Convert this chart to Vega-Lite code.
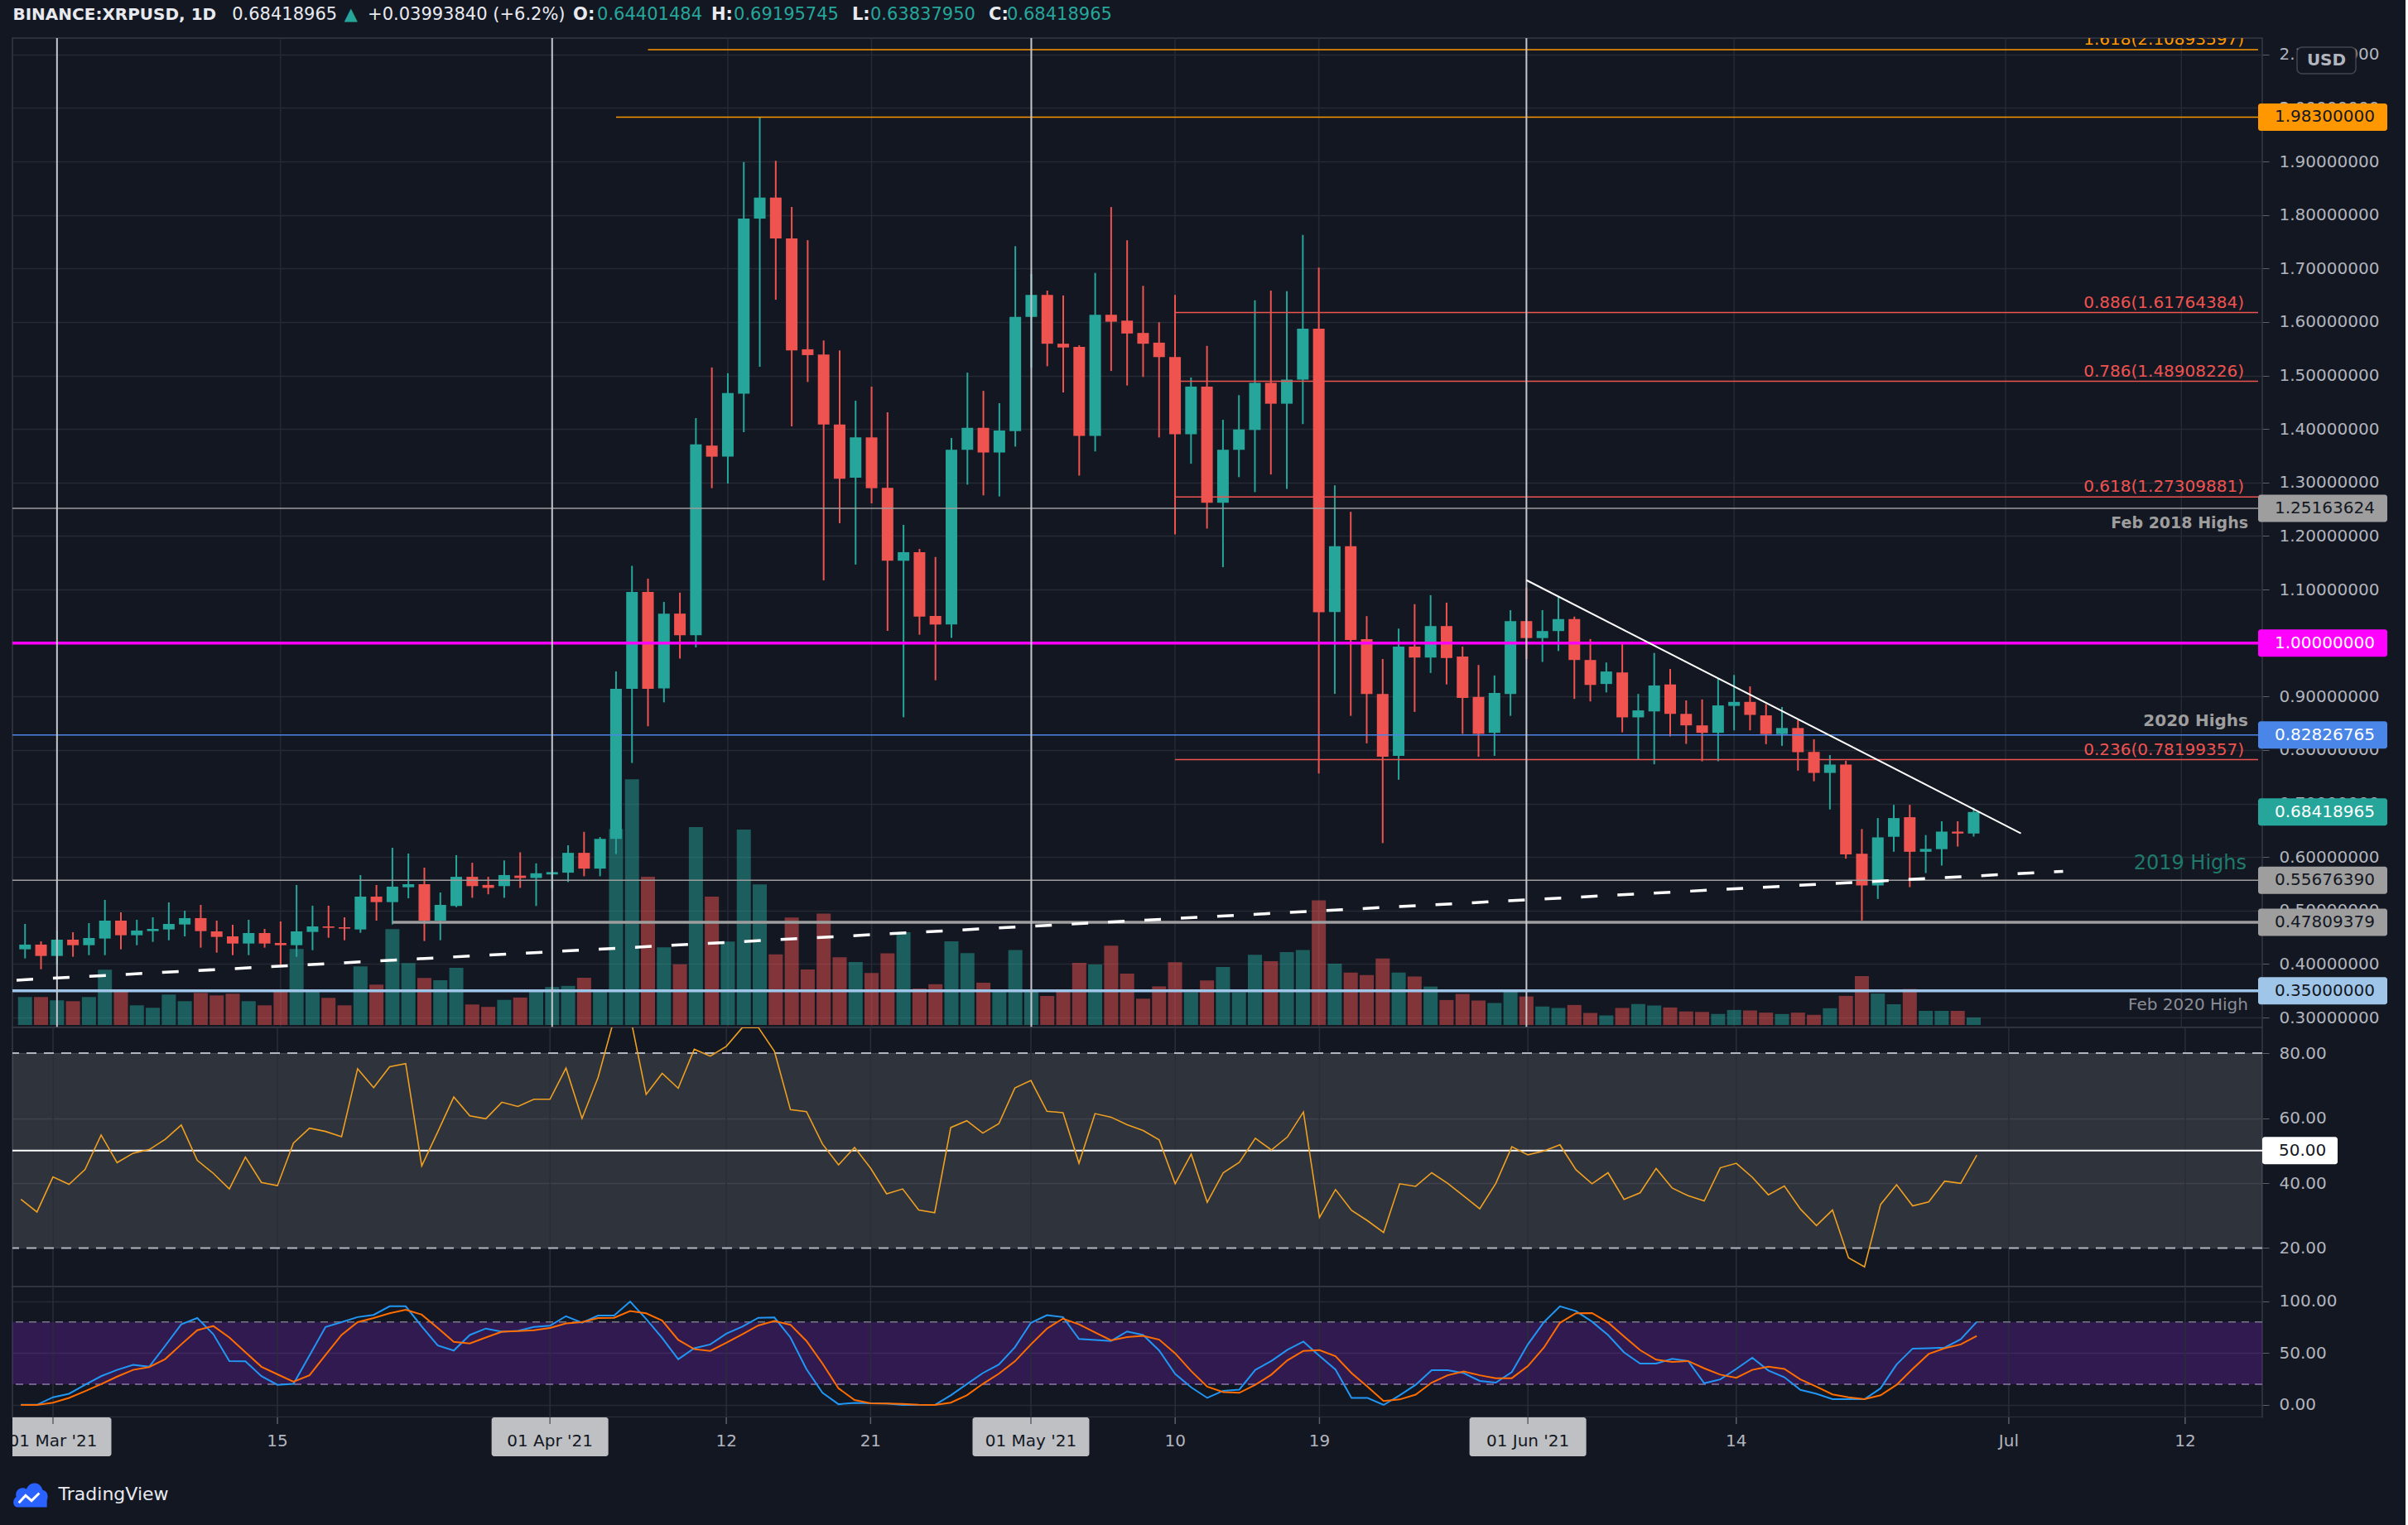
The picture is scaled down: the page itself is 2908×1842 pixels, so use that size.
{
"$schema":"https://vega.github.io/schema/vega-lite/v6.json",
"background":"#131722",
"padding":{"left":13,"top":0,"right":21,"bottom":0},
"autosize":{"type":"pad"},
"spacing":0,
"bounds":"flush",
"resolve":{"scale":{"x":"independent","y":"independent","color":"independent"}},
"config":{"view":{"stroke":"#363a45","strokeWidth":1.5,"fill":"#131722"},"text":{"font":"DejaVu Sans"}},
"datasets":{
"bars":[
{"t":"2021-02-27","o":0.4276,"h":0.4750,"l":0.4106,"c":0.4364,"v":33.7,"rsi":35.0,"k":0.1,"d":0.0},
{"t":"2021-02-28","o":0.4364,"h":0.4425,"l":0.3904,"c":0.4152,"v":33.7,"rsi":31.1,"k":0.1,"d":0.0},
{"t":"2021-03-01","o":0.4152,"h":0.4627,"l":0.3992,"c":0.4456,"v":29.7,"rsi":41.9,"k":7.4,"d":2.2},
{"t":"2021-03-02","o":0.4456,"h":0.4596,"l":0.4137,"c":0.4353,"v":28.7,"rsi":39.6,"k":10.8,"d":6.8},
{"t":"2021-03-03","o":0.4353,"h":0.4766,"l":0.4167,"c":0.4487,"v":33.7,"rsi":44.2,"k":19.4,"d":13.3},
{"t":"2021-03-04","o":0.4477,"h":0.5199,"l":0.4167,"c":0.4812,"v":66.7,"rsi":54.8,"k":27.7,"d":20.0},
{"t":"2021-03-05","o":0.4812,"h":0.4967,"l":0.4276,"c":0.4539,"v":41.7,"rsi":46.3,"k":33.8,"d":27.3},
{"t":"2021-03-06","o":0.4539,"h":0.4828,"l":0.4353,"c":0.4627,"v":23.7,"rsi":49.2,"k":38.7,"d":33.8},
{"t":"2021-03-07","o":0.4616,"h":0.4874,"l":0.4415,"c":0.4657,"v":20.7,"rsi":50.3,"k":36.8,"d":36.5},
{"t":"2021-03-08","o":0.4647,"h":0.5153,"l":0.4446,"c":0.4750,"v":36.7,"rsi":53.5,"k":57.0,"d":44.2},
{"t":"2021-03-09","o":0.4740,"h":0.4998,"l":0.4518,"c":0.4859,"v":28.7,"rsi":57.9,"k":77.6,"d":58.3},
{"t":"2021-03-10","o":0.4859,"h":0.5106,"l":0.4307,"c":0.4616,"v":38.7,"rsi":47.0,"k":83.7,"d":72.0},
{"t":"2021-03-11","o":0.4611,"h":0.4812,"l":0.4214,"c":0.4508,"v":35.7,"rsi":43.0,"k":68.1,"d":76.0},
{"t":"2021-03-12","o":0.4518,"h":0.4735,"l":0.4167,"c":0.4384,"v":37.7,"rsi":38.2,"k":42.3,"d":65.0},
{"t":"2021-03-13","o":0.4384,"h":0.4828,"l":0.4167,"c":0.4580,"v":28.7,"rsi":48.0,"k":42.0,"d":50.9},
{"t":"2021-03-14","o":0.4580,"h":0.4657,"l":0.4307,"c":0.4384,"v":23.7,"rsi":40.2,"k":27.7,"d":36.8},
{"t":"2021-03-15","o":0.4394,"h":0.4797,"l":0.3966,"c":0.4353,"v":40.7,"rsi":39.2,"k":19.4,"d":29.5},
{"t":"2021-03-16","o":0.4353,"h":0.5478,"l":0.4137,"c":0.4611,"v":91.7,"rsi":52.3,"k":20.3,"d":22.4},
{"t":"2021-03-17","o":0.4601,"h":0.5091,"l":0.4260,"c":0.4704,"v":42.7,"rsi":56.9,"k":47.6,"d":28.6},
{"t":"2021-03-18","o":0.4704,"h":0.5091,"l":0.4492,"c":0.4678,"v":32.7,"rsi":55.9,"k":75.1,"d":48.2},
{"t":"2021-03-19","o":0.4688,"h":0.4874,"l":0.4446,"c":0.4663,"v":23.7,"rsi":54.3,"k":79.7,"d":67.4},
{"t":"2021-03-20","o":0.4647,"h":0.5663,"l":0.4585,"c":0.5261,"v":70.7,"rsi":75.2,"k":84.6,"d":79.7},
{"t":"2021-03-21","o":0.5261,"h":0.5478,"l":0.4812,"c":0.5158,"v":48.7,"rsi":69.4,"k":86.7,"d":83.7},
{"t":"2021-03-22","o":0.5158,"h":0.6174,"l":0.4740,"c":0.5447,"v":115.7,"rsi":75.8,"k":95.0,"d":88.3},
{"t":"2021-03-23","o":0.5436,"h":0.6066,"l":0.5230,"c":0.5493,"v":74.7,"rsi":76.8,"k":95.0,"d":91.6},
{"t":"2021-03-24","o":0.5493,"h":0.5803,"l":0.4431,"c":0.4812,"v":56.7,"rsi":45.3,"k":75.7,"d":87.0},
{"t":"2021-03-25","o":0.4812,"h":0.5338,"l":0.4446,"c":0.5106,"v":54.0,"rsi":55.8,"k":57.3,"d":74.2},
{"t":"2021-03-26","o":0.5086,"h":0.6035,"l":0.5064,"c":0.5631,"v":69.1,"rsi":66.5,"k":52.4,"d":60.7},
{"t":"2021-03-27","o":0.5631,"h":0.5893,"l":0.5239,"c":0.5457,"v":24.7,"rsi":60.7,"k":67.4,"d":59.2},
{"t":"2021-03-28","o":0.5479,"h":0.5631,"l":0.5304,"c":0.5424,"v":21.8,"rsi":59.8,"k":73.6,"d":65.0},
{"t":"2021-03-29","o":0.5457,"h":0.5937,"l":0.5239,"c":0.5664,"v":30.3,"rsi":64.9,"k":70.5,"d":70.5},
{"t":"2021-03-30","o":0.5653,"h":0.6089,"l":0.5424,"c":0.5609,"v":33.1,"rsi":63.6,"k":71.4,"d":71.1},
{"t":"2021-03-31","o":0.5609,"h":0.5882,"l":0.5086,"c":0.5697,"v":40.9,"rsi":65.8,"k":75.1,"d":72.0},
{"t":"2021-04-01","o":0.5675,"h":0.5980,"l":0.5391,"c":0.5719,"v":45.8,"rsi":65.8,"k":76.3,"d":74.2},
{"t":"2021-04-02","o":0.5708,"h":0.6220,"l":0.5533,"c":0.6079,"v":47.2,"rsi":75.4,"k":85.5,"d":78.5},
{"t":"2021-04-03","o":0.6079,"h":0.6471,"l":0.5642,"c":0.5784,"v":57.1,"rsi":59.9,"k":79.1,"d":79.7},
{"t":"2021-04-04","o":0.5784,"h":0.6373,"l":0.5642,"c":0.6340,"v":40.9,"rsi":72.5,"k":86.1,"d":83.7},
{"t":"2021-04-05","o":0.6340,"h":0.9470,"l":0.6057,"c":0.9143,"v":236.8,"rsi":90.5,"k":86.1,"d":84.0},
{"t":"2021-04-06","o":0.9143,"h":1.1444,"l":0.7758,"c":1.0953,"v":296.7,"rsi":91.5,"k":99.6,"d":90.4},
{"t":"2021-04-07","o":1.0953,"h":1.1204,"l":0.8445,"c":0.9143,"v":179.0,"rsi":67.3,"k":82.8,"d":88.3},
{"t":"2021-04-08","o":0.9154,"h":1.0768,"l":0.8892,"c":1.0550,"v":93.7,"rsi":73.8,"k":64.4,"d":81.2},
{"t":"2021-04-09","o":1.0550,"h":1.0942,"l":0.9710,"c":1.0146,"v":73.3,"rsi":69.2,"k":43.9,"d":62.6},
{"t":"2021-04-10","o":1.0146,"h":1.4203,"l":0.9917,"c":1.3712,"v":238.9,"rsi":81.2,"k":54.6,"d":53.7},
{"t":"2021-04-11","o":1.3690,"h":1.5151,"l":1.2894,"c":1.3483,"v":155.0,"rsi":79.1,"k":58.3,"d":52.1},
{"t":"2021-04-12","o":1.3483,"h":1.5042,"l":1.2981,"c":1.4672,"v":100.8,"rsi":82.1,"k":68.7,"d":59.8},
{"t":"2021-04-13","o":1.4661,"h":1.8990,"l":1.3941,"c":1.7932,"v":236.1,"rsi":87.9,"k":75.4,"d":68.1},
{"t":"2021-04-14","o":1.7932,"h":1.9830,"l":1.5162,"c":1.8325,"v":169.8,"rsi":87.9,"k":84.0,"d":76.6},
{"t":"2021-04-15","o":1.8325,"h":1.9012,"l":1.6416,"c":1.7561,"v":85.3,"rsi":80.6,"k":84.3,"d":80.9},
{"t":"2021-04-16","o":1.7561,"h":1.8150,"l":1.4050,"c":1.5468,"v":129.7,"rsi":62.6,"k":65.0,"d":77.2},
{"t":"2021-04-17","o":1.5490,"h":1.7529,"l":1.4879,"c":1.5381,"v":66.9,"rsi":62.0,"k":34.5,"d":61.6},
{"t":"2021-04-18","o":1.5392,"h":1.5653,"l":1.1171,"c":1.4083,"v":134.6,"rsi":52.0,"k":11.7,"d":39.9},
{"t":"2021-04-19","o":1.4083,"h":1.5468,"l":1.2240,"c":1.3069,"v":81.7,"rsi":45.6,"k":0.7,"d":16.0},
{"t":"2021-04-20","o":1.3090,"h":1.4530,"l":1.1466,"c":1.3843,"v":76.1,"rsi":51.0,"k":1.9,"d":4.7},
{"t":"2021-04-21","o":1.3843,"h":1.4792,"l":1.2611,"c":1.2894,"v":62.7,"rsi":44.6,"k":1.6,"d":1.6},
{"t":"2021-04-22","o":1.2900,"h":1.4312,"l":1.0226,"c":1.1538,"v":86.4,"rsi":36.7,"k":1.3,"d":1.3},
{"t":"2021-04-23","o":1.1538,"h":1.2209,"l":0.8613,"c":1.1698,"v":112.0,"rsi":38.2,"k":0.0,"d":1.0},
{"t":"2021-04-24","o":1.1698,"h":1.1758,"l":1.0156,"c":1.0496,"v":44.0,"rsi":31.7,"k":0.0,"d":0.1},
{"t":"2021-04-25","o":1.0506,"h":1.1608,"l":0.9304,"c":1.0346,"v":49.2,"rsi":30.9,"k":0.0,"d":0.0},
{"t":"2021-04-26","o":1.0346,"h":1.3832,"l":1.0096,"c":1.3611,"v":101.0,"rsi":57.1,"k":9.3,"d":2.2},
{"t":"2021-04-27","o":1.3611,"h":1.5054,"l":1.2960,"c":1.4022,"v":86.7,"rsi":59.2,"k":20.0,"d":9.3},
{"t":"2021-04-28","o":1.4022,"h":1.4713,"l":1.2760,"c":1.3561,"v":51.1,"rsi":55.4,"k":30.7,"d":20.3},
{"t":"2021-04-29","o":1.3561,"h":1.4483,"l":1.2740,"c":1.3972,"v":42.1,"rsi":58.3,"k":39.0,"d":30.1},
{"t":"2021-04-30","o":1.3962,"h":1.7417,"l":1.3671,"c":1.6095,"v":90.6,"rsi":69.3,"k":55.5,"d":42.0},
{"t":"2021-05-01","o":1.6095,"h":1.6897,"l":1.5144,"c":1.6506,"v":42.7,"rsi":71.6,"k":79.1,"d":58.3},
{"t":"2021-05-02","o":1.6506,"h":1.6586,"l":1.5174,"c":1.5594,"v":35.0,"rsi":62.1,"k":86.4,"d":73.6},
{"t":"2021-05-03","o":1.5594,"h":1.6496,"l":1.4683,"c":1.5524,"v":40.8,"rsi":61.7,"k":84.6,"d":83.1},
{"t":"2021-05-04","o":1.5534,"h":1.5564,"l":1.3130,"c":1.3872,"v":75.1,"rsi":46.1,"k":63.5,"d":77.6},
{"t":"2021-05-05","o":1.3872,"h":1.6917,"l":1.3581,"c":1.6135,"v":73.1,"rsi":61.4,"k":62.6,"d":69.9},
{"t":"2021-05-06","o":1.6135,"h":1.8148,"l":1.5084,"c":1.6005,"v":95.8,"rsi":60.3,"k":61.6,"d":62.2},
{"t":"2021-05-07","o":1.6025,"h":1.7527,"l":1.4813,"c":1.5785,"v":62.1,"rsi":58.0,"k":70.8,"d":65.3},
{"t":"2021-05-08","o":1.5795,"h":1.6676,"l":1.4973,"c":1.5594,"v":31.7,"rsi":56.2,"k":67.4,"d":66.5},
{"t":"2021-05-09","o":1.5614,"h":1.5995,"l":1.3842,"c":1.5344,"v":46.6,"rsi":53.3,"k":52.4,"d":62.9},
{"t":"2021-05-10","o":1.5344,"h":1.6506,"l":1.2029,"c":1.3902,"v":75.7,"rsi":39.8,"k":29.8,"d":49.7},
{"t":"2021-05-11","o":1.3902,"h":1.4963,"l":1.3351,"c":1.4793,"v":39.5,"rsi":48.9,"k":16.9,"d":32.6},
{"t":"2021-05-12","o":1.4793,"h":1.5554,"l":1.2139,"c":1.2620,"v":53.7,"rsi":34.1,"k":6.8,"d":17.6},
{"t":"2021-05-13","o":1.2620,"h":1.4172,"l":1.1418,"c":1.3611,"v":69.9,"rsi":43.2,"k":13.6,"d":12.3},
{"t":"2021-05-14","o":1.3611,"h":1.4633,"l":1.3100,"c":1.3992,"v":39.5,"rsi":46.4,"k":14.8,"d":11.7},
{"t":"2021-05-15","o":1.3982,"h":1.6406,"l":1.2820,"c":1.4863,"v":84.8,"rsi":53.8,"k":33.8,"d":19.4},
{"t":"2021-05-16","o":1.4863,"h":1.6586,"l":1.3150,"c":1.4473,"v":77.0,"rsi":50.2,"k":42.3,"d":29.2},
{"t":"2021-05-17","o":1.4473,"h":1.6576,"l":1.2880,"c":1.4923,"v":88.0,"rsi":54.2,"k":53.1,"d":43.0},
{"t":"2021-05-18","o":1.4923,"h":1.7628,"l":1.4092,"c":1.5875,"v":90.6,"rsi":61.9,"k":61.0,"d":52.1},
{"t":"2021-05-19","o":1.5875,"h":1.7017,"l":0.7562,"c":1.0577,"v":150.5,"rsi":29.4,"k":47.2,"d":52.8},
{"t":"2021-05-20","o":1.0578,"h":1.2947,"l":0.9049,"c":1.1809,"v":74.1,"rsi":38.0,"k":34.1,"d":46.9},
{"t":"2021-05-21","o":1.1809,"h":1.2452,"l":0.8639,"c":1.0056,"v":63.3,"rsi":31.6,"k":6.8,"d":30.7},
{"t":"2021-05-22","o":1.0074,"h":1.0503,"l":0.8126,"c":0.9049,"v":60.3,"rsi":28.4,"k":6.8,"d":17.6},
{"t":"2021-05-23","o":0.9049,"h":0.9702,"l":0.6261,"c":0.7874,"v":80.2,"rsi":24.8,"k":0.0,"d":3.8},
{"t":"2021-05-24","o":0.7892,"h":1.0270,"l":0.7445,"c":0.9934,"v":63.3,"rsi":39.8,"k":9.3,"d":5.3},
{"t":"2021-05-25","o":0.9934,"h":1.0727,"l":0.8713,"c":0.9729,"v":58.5,"rsi":39.0,"k":19.4,"d":9.9},
{"t":"2021-05-26","o":0.9729,"h":1.0895,"l":0.9440,"c":1.0317,"v":46.4,"rsi":43.2,"k":33.5,"d":21.5},
{"t":"2021-05-27","o":1.0317,"h":1.0755,"l":0.9226,"c":0.9720,"v":30.1,"rsi":39.9,"k":33.5,"d":28.6},
{"t":"2021-05-28","o":0.9748,"h":0.9934,"l":0.8303,"c":0.8974,"v":37.4,"rsi":36.0,"k":30.7,"d":32.3},
{"t":"2021-05-29","o":0.8993,"h":0.9590,"l":0.7874,"c":0.8303,"v":29.5,"rsi":32.1,"k":23.1,"d":28.6},
{"t":"2021-05-30","o":0.8322,"h":0.9394,"l":0.7892,"c":0.9067,"v":26.5,"rsi":39.9,"k":21.5,"d":25.8},
{"t":"2021-05-31","o":0.9049,"h":1.0615,"l":0.8639,"c":1.0410,"v":42.2,"rsi":51.2,"k":31.6,"d":25.8},
{"t":"2021-06-01","o":1.0410,"h":1.1035,"l":0.9702,"c":1.0093,"v":34.4,"rsi":48.7,"k":58.3,"d":37.4},
{"t":"2021-06-02","o":1.0093,"h":1.0615,"l":0.9646,"c":1.0224,"v":22.3,"rsi":49.9,"k":79.7,"d":55.2},
{"t":"2021-06-03","o":1.0224,"h":1.0867,"l":0.9851,"c":1.0448,"v":20.5,"rsi":51.8,"k":95.0,"d":79.1},
{"t":"2021-06-04","o":1.0448,"h":1.0494,"l":0.8956,"c":0.9683,"v":24.1,"rsi":44.1,"k":90.4,"d":88.3},
{"t":"2021-06-05","o":0.9683,"h":1.0075,"l":0.8909,"c":0.9217,"v":14.5,"rsi":39.8,"k":80.2,"d":88.5},
{"t":"2021-06-06","o":0.9235,"h":0.9636,"l":0.9077,"c":0.9468,"v":11.5,"rsi":43.2,"k":67.4,"d":79.4},
{"t":"2021-06-07","o":0.9450,"h":1.0000,"l":0.8331,"c":0.8611,"v":20.5,"rsi":35.0,"k":50.6,"d":65.9},
{"t":"2021-06-08","o":0.8611,"h":0.9049,"l":0.7827,"c":0.8741,"v":25.3,"rsi":37.0,"k":39.9,"d":52.8},
{"t":"2021-06-09","o":0.8722,"h":0.9814,"l":0.7734,"c":0.9207,"v":23.5,"rsi":44.5,"k":39.9,"d":43.6},
{"t":"2021-06-10","o":0.9226,"h":0.9515,"l":0.8256,"c":0.8676,"v":21.1,"rsi":38.5,"k":44.5,"d":41.4},
{"t":"2021-06-11","o":0.8676,"h":0.8928,"l":0.8116,"c":0.8461,"v":16.3,"rsi":36.1,"k":42.3,"d":42.3},
{"t":"2021-06-12","o":0.8461,"h":0.8946,"l":0.7790,"c":0.8322,"v":15.7,"rsi":34.5,"k":20.9,"d":35.3},
{"t":"2021-06-13","o":0.8322,"h":0.9338,"l":0.7790,"c":0.8834,"v":13.3,"rsi":44.7,"k":24.6,"d":29.2},
{"t":"2021-06-14","o":0.8825,"h":0.9403,"l":0.8368,"c":0.8900,"v":18.1,"rsi":46.1,"k":34.7,"d":26.1},
{"t":"2021-06-15","o":0.8900,"h":0.9189,"l":0.8368,"c":0.8657,"v":17.5,"rsi":41.8,"k":45.4,"d":33.8},
{"t":"2021-06-16","o":0.8648,"h":0.8858,"l":0.8111,"c":0.8299,"v":14.9,"rsi":36.4,"k":33.2,"d":36.8},
{"t":"2021-06-17","o":0.8299,"h":0.8804,"l":0.8078,"c":0.8412,"v":13.2,"rsi":39.1,"k":26.7,"d":34.7},
{"t":"2021-06-18","o":0.8412,"h":0.8557,"l":0.7616,"c":0.7960,"v":14.9,"rsi":32.0,"k":14.5,"d":24.6},
{"t":"2021-06-19","o":0.7965,"h":0.8202,"l":0.7417,"c":0.7573,"v":12.2,"rsi":26.9,"k":10.8,"d":17.6},
{"t":"2021-06-20","o":0.7573,"h":0.7906,"l":0.6890,"c":0.7729,"v":20.2,"rsi":31.7,"k":5.6,"d":10.2},
{"t":"2021-06-21","o":0.7729,"h":0.7799,"l":0.5970,"c":0.6051,"v":35.1,"rsi":17.0,"k":5.6,"d":7.4},
{"t":"2021-06-22","o":0.6062,"h":0.6524,"l":0.4814,"c":0.5470,"v":59.1,"rsi":14.2,"k":5.6,"d":5.6},
{"t":"2021-06-23","o":0.5470,"h":0.6729,"l":0.5217,"c":0.6368,"v":37.9,"rsi":33.4,"k":16.0,"d":9.3},
{"t":"2021-06-24","o":0.6379,"h":0.6976,"l":0.6099,"c":0.6729,"v":25.0,"rsi":39.5,"k":39.0,"d":19.4},
{"t":"2021-06-25","o":0.6745,"h":0.6976,"l":0.5438,"c":0.6099,"v":43.4,"rsi":33.0,"k":54.3,"d":34.7},
{"t":"2021-06-26","o":0.6099,"h":0.6411,"l":0.5701,"c":0.6153,"v":17.0,"rsi":34.2,"k":54.6,"d":49.1},
{"t":"2021-06-27","o":0.6148,"h":0.6669,"l":0.5841,"c":0.6476,"v":17.0,"rsi":40.6,"k":55.2,"d":54.6},
{"t":"2021-06-28","o":0.6476,"h":0.6669,"l":0.6196,"c":0.6440,"v":17.0,"rsi":39.9,"k":63.2,"d":58.3},
{"t":"2021-06-29","o":0.64401484,"h":0.69195745,"l":0.6383795,"c":0.68418965,"v":9.0,"rsi":48.6,"k":80.0,"d":66.5}
],
"ticks":[
{"t":"2021-03-01","label":"01 Mar '21","drawn":true},
{"t":"2021-03-15","label":"15","drawn":false},
{"t":"2021-04-01","label":"01 Apr '21","drawn":true},
{"t":"2021-04-12","label":"12","drawn":false},
{"t":"2021-04-21","label":"21","drawn":false},
{"t":"2021-05-01","label":"01 May '21","drawn":true},
{"t":"2021-05-10","label":"10","drawn":false},
{"t":"2021-05-19","label":"19","drawn":false},
{"t":"2021-06-01","label":"01 Jun '21","drawn":true},
{"t":"2021-06-14","label":"14","drawn":false},
{"t":"2021-07-01","label":"Jul","drawn":false},
{"t":"2021-07-12","label":"12","drawn":false}
],
"levels":[
{"p":2.10893597,"from":"2021-04-07","kind":"orange"},
{"p":1.983,"from":"2021-04-05","kind":"orange"},
{"p":1.61764384,"from":"2021-05-10","kind":"fib"},
{"p":1.48908226,"from":"2021-05-10","kind":"fib"},
{"p":1.27309881,"from":"2021-05-10","kind":"fib"},
{"p":1.25163624,"from":"2021-02-20","kind":"gray"},
{"p":1.0,"from":"2021-02-20","kind":"magenta"},
{"p":0.82826765,"from":"2021-02-20","kind":"blue"},
{"p":0.78199357,"from":"2021-05-10","kind":"fib"},
{"p":0.5567639,"from":"2021-02-20","kind":"gray"},
{"p":0.47809379,"from":"2021-03-22","kind":"gray2"},
{"p":0.35,"from":"2021-02-20","kind":"lightblue"}
],
"fib":[
{"p":2.10893597,"label":"1.618(2.10893597)","kind":"orange"},
{"p":1.61764384,"label":"0.886(1.61764384)","kind":"fib"},
{"p":1.48908226,"label":"0.786(1.48908226)","kind":"fib"},
{"p":1.27309881,"label":"0.618(1.27309881)","kind":"fib"},
{"p":0.78199357,"label":"0.236(0.78199357)","kind":"fib"}
],
"boxes":[
{"v":1.983,"kind":"orange"},
{"v":1.25163624,"kind":"gray"},
{"v":1.0,"kind":"magenta"},
{"v":0.82826765,"kind":"blue"},
{"v":0.68418965,"kind":"teal"},
{"v":0.5567639,"kind":"gray"},
{"v":0.47809379,"kind":"gray2"},
{"v":0.35,"kind":"lightblue"}
],
"dash":[{"t":"2021-02-26T11:15:00Z","p":0.3699},{"t":"2021-07-04T14:24:00Z","p":0.5734}],
"trend":[{"t":"2021-06-01T00:00:00Z","p":1.1175},{"t":"2021-07-01T23:00:00Z","p":0.6443}]
},
"vconcat":[
{
"width":2717,"height":46,"view":{"stroke":null},
"data":{"values":[{}]},
"layer":[
{"mark":{"type":"text","align":"left","baseline":"middle","fontSize":20,"fontWeight":"bold","color":"#e8eaf0"},"encoding":{"x":{"datum":{"year":2021,"month":2,"date":26,"hours":11,"minutes":46,"utc":true},"type":"temporal","scale":{"type":"utc","domain":[{"year":2021,"month":2,"date":26,"hours":11,"minutes":15,"utc":true},{"year":2021,"month":7,"date":16,"hours":19,"minutes":26,"utc":true}]},"axis":null},"y":{"datum":0.6,"type":"quantitative","scale":{"domain":[0,1]},"axis":null},"text":{"value":"BINANCE:XRPUSD, 1D"}}},
{"mark":{"type":"text","align":"left","baseline":"middle","fontSize":21,"color":"#e8eaf0"},"encoding":{"x":{"datum":{"year":2021,"month":3,"date":12,"hours":4,"utc":true},"type":"temporal","scale":{"type":"utc","domain":[{"year":2021,"month":2,"date":26,"hours":11,"minutes":15,"utc":true},{"year":2021,"month":7,"date":16,"hours":19,"minutes":26,"utc":true}]},"axis":null},"y":{"datum":0.6,"type":"quantitative","scale":{"domain":[0,1]},"axis":null},"text":{"value":"0.68418965"}}},
{"mark":{"type":"text","align":"left","baseline":"middle","fontSize":21,"color":"#26a69a"},"encoding":{"x":{"datum":{"year":2021,"month":3,"date":19,"hours":3,"minutes":55,"utc":true},"type":"temporal","scale":{"type":"utc","domain":[{"year":2021,"month":2,"date":26,"hours":11,"minutes":15,"utc":true},{"year":2021,"month":7,"date":16,"hours":19,"minutes":26,"utc":true}]},"axis":null},"y":{"datum":0.6,"type":"quantitative","scale":{"domain":[0,1]},"axis":null},"text":{"value":"▲"}}},
{"mark":{"type":"text","align":"left","baseline":"middle","fontSize":21,"color":"#e8eaf0"},"encoding":{"x":{"datum":{"year":2021,"month":3,"date":20,"hours":15,"minutes":7,"utc":true},"type":"temporal","scale":{"type":"utc","domain":[{"year":2021,"month":2,"date":26,"hours":11,"minutes":15,"utc":true},{"year":2021,"month":7,"date":16,"hours":19,"minutes":26,"utc":true}]},"axis":null},"y":{"datum":0.6,"type":"quantitative","scale":{"domain":[0,1]},"axis":null},"text":{"value":"+0.03993840 (+6.2%)"}}},
{"mark":{"type":"text","align":"left","baseline":"middle","fontSize":21,"fontWeight":"bold","color":"#e8eaf0"},"encoding":{"x":{"datum":{"year":2021,"month":4,"date":2,"hours":10,"minutes":34,"utc":true},"type":"temporal","scale":{"type":"utc","domain":[{"year":2021,"month":2,"date":26,"hours":11,"minutes":15,"utc":true},{"year":2021,"month":7,"date":16,"hours":19,"minutes":26,"utc":true}]},"axis":null},"y":{"datum":0.6,"type":"quantitative","scale":{"domain":[0,1]},"axis":null},"text":{"value":"O:"}}},
{"mark":{"type":"text","align":"left","baseline":"middle","fontSize":21,"color":"#26a69a"},"encoding":{"x":{"datum":{"year":2021,"month":4,"date":3,"hours":22,"minutes":34,"utc":true},"type":"temporal","scale":{"type":"utc","domain":[{"year":2021,"month":2,"date":26,"hours":11,"minutes":15,"utc":true},{"year":2021,"month":7,"date":16,"hours":19,"minutes":26,"utc":true}]},"axis":null},"y":{"datum":0.6,"type":"quantitative","scale":{"domain":[0,1]},"axis":null},"text":{"value":"0.64401484"}}},
{"mark":{"type":"text","align":"left","baseline":"middle","fontSize":21,"fontWeight":"bold","color":"#e8eaf0"},"encoding":{"x":{"datum":{"year":2021,"month":4,"date":11,"hours":1,"minutes":26,"utc":true},"type":"temporal","scale":{"type":"utc","domain":[{"year":2021,"month":2,"date":26,"hours":11,"minutes":15,"utc":true},{"year":2021,"month":7,"date":16,"hours":19,"minutes":26,"utc":true}]},"axis":null},"y":{"datum":0.6,"type":"quantitative","scale":{"domain":[0,1]},"axis":null},"text":{"value":"H:"}}},
{"mark":{"type":"text","align":"left","baseline":"middle","fontSize":21,"color":"#26a69a"},"encoding":{"x":{"datum":{"year":2021,"month":4,"date":12,"hours":11,"minutes":2,"utc":true},"type":"temporal","scale":{"type":"utc","domain":[{"year":2021,"month":2,"date":26,"hours":11,"minutes":15,"utc":true},{"year":2021,"month":7,"date":16,"hours":19,"minutes":26,"utc":true}]},"axis":null},"y":{"datum":0.6,"type":"quantitative","scale":{"domain":[0,1]},"axis":null},"text":{"value":"0.69195745"}}},
{"mark":{"type":"text","align":"left","baseline":"middle","fontSize":21,"fontWeight":"bold","color":"#e8eaf0"},"encoding":{"x":{"datum":{"year":2021,"month":4,"date":19,"hours":20,"minutes":10,"utc":true},"type":"temporal","scale":{"type":"utc","domain":[{"year":2021,"month":2,"date":26,"hours":11,"minutes":15,"utc":true},{"year":2021,"month":7,"date":16,"hours":19,"minutes":26,"utc":true}]},"axis":null},"y":{"datum":0.6,"type":"quantitative","scale":{"domain":[0,1]},"axis":null},"text":{"value":"L:"}}},
{"mark":{"type":"text","align":"left","baseline":"middle","fontSize":21,"color":"#26a69a"},"encoding":{"x":{"datum":{"year":2021,"month":4,"date":20,"hours":23,"minutes":31,"utc":true},"type":"temporal","scale":{"type":"utc","domain":[{"year":2021,"month":2,"date":26,"hours":11,"minutes":15,"utc":true},{"year":2021,"month":7,"date":16,"hours":19,"minutes":26,"utc":true}]},"axis":null},"y":{"datum":0.6,"type":"quantitative","scale":{"domain":[0,1]},"axis":null},"text":{"value":"0.63837950"}}},
{"mark":{"type":"text","align":"left","baseline":"middle","fontSize":21,"fontWeight":"bold","color":"#e8eaf0"},"encoding":{"x":{"datum":{"year":2021,"month":4,"date":28,"hours":8,"minutes":53,"utc":true},"type":"temporal","scale":{"type":"utc","domain":[{"year":2021,"month":2,"date":26,"hours":11,"minutes":15,"utc":true},{"year":2021,"month":7,"date":16,"hours":19,"minutes":26,"utc":true}]},"axis":null},"y":{"datum":0.6,"type":"quantitative","scale":{"domain":[0,1]},"axis":null},"text":{"value":"C:"}}},
{"mark":{"type":"text","align":"left","baseline":"middle","fontSize":21,"color":"#26a69a"},"encoding":{"x":{"datum":{"year":2021,"month":4,"date":29,"hours":12,"minutes":0,"utc":true},"type":"temporal","scale":{"type":"utc","domain":[{"year":2021,"month":2,"date":26,"hours":11,"minutes":15,"utc":true},{"year":2021,"month":7,"date":16,"hours":19,"minutes":26,"utc":true}]},"axis":null},"y":{"datum":0.6,"type":"quantitative","scale":{"domain":[0,1]},"axis":null},"text":{"value":"0.68418965"}}}
]
},
{
"width":2717,"height":1195,
"layer":[
{"data":{"name":"ticks"},"mark":{"type":"rule","color":"#262a35","strokeWidth":1.5},"encoding":{"x":{"field":"t","type":"temporal","scale":{"type":"utc","domain":[{"year":2021,"month":2,"date":26,"hours":11,"minutes":15,"utc":true},{"year":2021,"month":7,"date":16,"hours":19,"minutes":26,"utc":true}]},"axis":null}}},
{"data":{"name":"bars"},"mark":{"type":"bar","width":17,"opacity":0.5},"encoding":{"x":{"field":"t","type":"temporal","scale":{"type":"utc","domain":[{"year":2021,"month":2,"date":26,"hours":11,"minutes":15,"utc":true},{"year":2021,"month":7,"date":16,"hours":19,"minutes":26,"utc":true}]},"axis":null},"y":{"field":"v","type":"quantitative","scale":{"domain":[-3,1192],"nice":false,"zero":false},"axis":null},"color":{"condition":{"test":"datum.c >= datum.o","value":"#26a69a"},"value":"#ef5350"}}},
{"layer":[
{"data":{"name":"bars"},"mark":{"type":"rule","strokeWidth":2},"encoding":{"x":{"field":"t","type":"temporal","scale":{"type":"utc","domain":[{"year":2021,"month":2,"date":26,"hours":11,"minutes":15,"utc":true},{"year":2021,"month":7,"date":16,"hours":19,"minutes":26,"utc":true}]},"axis":null},"y":{"field":"l","type":"quantitative","scale":{"domain":[0.2816,2.1306],"nice":false,"zero":false},"axis":{"orient":"right","values":[0.3,0.4,0.5,0.6,0.7,0.8,0.9,1.0,1.1,1.2,1.3,1.4,1.5,1.6,1.7,1.8,1.9,2.0,2.1],"format":".8f","grid":true,"gridColor":"#262a35","gridWidth":1.5,"tickSize":8,"tickColor":"#5d606b","labelPadding":12,"labelFontSize":20,"labelFont":"DejaVu Sans","labelColor":"#b2b5be","domain":false,"title":null,"labelOverlap":false}},"y2":{"field":"h"},"color":{"condition":{"test":"datum.c >= datum.o","value":"#26a69a"},"value":"#ef5350"}}},
{"data":{"name":"bars"},"mark":{"type":"bar","width":14},"encoding":{"x":{"field":"t","type":"temporal","scale":{"type":"utc","domain":[{"year":2021,"month":2,"date":26,"hours":11,"minutes":15,"utc":true},{"year":2021,"month":7,"date":16,"hours":19,"minutes":26,"utc":true}]},"axis":null},"y":{"field":"o","type":"quantitative"},"y2":{"field":"c"},"color":{"condition":{"test":"datum.c >= datum.o","value":"#26a69a"},"value":"#ef5350"}}},
{"data":{"name":"levels"},"mark":{"type":"rule","clip":true},"encoding":{"x":{"field":"from","type":"temporal","scale":{"type":"utc","domain":[{"year":2021,"month":2,"date":26,"hours":11,"minutes":15,"utc":true},{"year":2021,"month":7,"date":16,"hours":19,"minutes":26,"utc":true}]},"axis":null},"x2":{"datum":{"year":2021,"month":7,"date":16,"hours":19,"minutes":26,"utc":true}},"y":{"field":"p","type":"quantitative"},"color":{"field":"kind","type":"nominal","scale":{"domain":["orange","fib","gray","gray2","magenta","blue","lightblue","teal"],"range":["#ff9800","#ef5350","#9e9e9e","#9e9e9e","#ff00ff","#4a86e8","#9fc5e8","#26a69a"]},"legend":null},"strokeWidth":{"condition":{"test":"indexof(['magenta','lightblue','gray2'], datum.kind) >= 0","value":3.5},"value":1.5}}},
{"data":{"name":"ticks"},"transform":[{"filter":"datum.drawn"}],"mark":{"type":"rule","color":"#c4c6cc","strokeWidth":2},"encoding":{"x":{"field":"t","type":"temporal","scale":{"type":"utc","domain":[{"year":2021,"month":2,"date":26,"hours":11,"minutes":15,"utc":true},{"year":2021,"month":7,"date":16,"hours":19,"minutes":26,"utc":true}]},"axis":null}}},
{"data":{"name":"dash"},"mark":{"type":"line","color":"#ffffff","strokeWidth":3.5,"strokeDash":[20,24],"clip":true},"encoding":{"x":{"field":"t","type":"temporal","scale":{"type":"utc","domain":[{"year":2021,"month":2,"date":26,"hours":11,"minutes":15,"utc":true},{"year":2021,"month":7,"date":16,"hours":19,"minutes":26,"utc":true}]},"axis":null},"y":{"field":"p","type":"quantitative"}}},
{"data":{"name":"trend"},"mark":{"type":"line","color":"#ffffff","strokeWidth":2},"encoding":{"x":{"field":"t","type":"temporal","scale":{"type":"utc","domain":[{"year":2021,"month":2,"date":26,"hours":11,"minutes":15,"utc":true},{"year":2021,"month":7,"date":16,"hours":19,"minutes":26,"utc":true}]},"axis":null},"y":{"field":"p","type":"quantitative"}}},
{"data":{"name":"fib"},"mark":{"type":"text","align":"right","baseline":"alphabetic","dx":-17,"dy":-6,"fontSize":20,"clip":true},"encoding":{"x":{"datum":{"year":2021,"month":7,"date":16,"hours":19,"minutes":26,"utc":true},"type":"temporal","scale":{"type":"utc","domain":[{"year":2021,"month":2,"date":26,"hours":11,"minutes":15,"utc":true},{"year":2021,"month":7,"date":16,"hours":19,"minutes":26,"utc":true}]},"axis":null},"y":{"field":"p","type":"quantitative"},"text":{"field":"label"},"color":{"field":"kind","type":"nominal","scale":{"domain":["orange","fib","gray","gray2","magenta","blue","lightblue","teal"],"range":["#ff9800","#ef5350","#9e9e9e","#9e9e9e","#ff00ff","#4a86e8","#9fc5e8","#26a69a"]},"legend":null}}},
{"data":{"values":[{}]},"mark":{"type":"text","align":"right","baseline":"middle","dx":-12,"dy":18,"fontSize":19,"fontWeight":"bold","color":"#9e9e9e"},"encoding":{"x":{"datum":{"year":2021,"month":7,"date":16,"hours":19,"minutes":26,"utc":true},"type":"temporal","scale":{"type":"utc","domain":[{"year":2021,"month":2,"date":26,"hours":11,"minutes":15,"utc":true},{"year":2021,"month":7,"date":16,"hours":19,"minutes":26,"utc":true}]},"axis":null},"y":{"datum":1.25163624,"type":"quantitative"},"text":{"value":"Feb 2018 Highs"}}},
{"data":{"values":[{}]},"mark":{"type":"text","align":"right","baseline":"middle","dx":-12,"dy":-17,"fontSize":20,"fontWeight":"bold","color":"#9e9e9e"},"encoding":{"x":{"datum":{"year":2021,"month":7,"date":16,"hours":19,"minutes":26,"utc":true},"type":"temporal","scale":{"type":"utc","domain":[{"year":2021,"month":2,"date":26,"hours":11,"minutes":15,"utc":true},{"year":2021,"month":7,"date":16,"hours":19,"minutes":26,"utc":true}]},"axis":null},"y":{"datum":0.82826765,"type":"quantitative"},"text":{"value":"2020 Highs"}}},
{"data":{"values":[{}]},"mark":{"type":"text","align":"right","baseline":"middle","dx":-14,"dy":-20,"fontSize":24,"color":"#1f7a6c"},"encoding":{"x":{"datum":{"year":2021,"month":7,"date":16,"hours":19,"minutes":26,"utc":true},"type":"temporal","scale":{"type":"utc","domain":[{"year":2021,"month":2,"date":26,"hours":11,"minutes":15,"utc":true},{"year":2021,"month":7,"date":16,"hours":19,"minutes":26,"utc":true}]},"axis":null},"y":{"datum":0.5567639,"type":"quantitative"},"text":{"value":"2019 Highs"}}},
{"data":{"values":[{}]},"mark":{"type":"text","align":"right","baseline":"middle","dx":-12,"dy":17,"fontSize":20,"color":"#8a8d96"},"encoding":{"x":{"datum":{"year":2021,"month":7,"date":16,"hours":19,"minutes":26,"utc":true},"type":"temporal","scale":{"type":"utc","domain":[{"year":2021,"month":2,"date":26,"hours":11,"minutes":15,"utc":true},{"year":2021,"month":7,"date":16,"hours":19,"minutes":26,"utc":true}]},"axis":null},"y":{"datum":0.35,"type":"quantitative"},"text":{"value":"Feb 2020 High"}}},
{"data":{"name":"boxes"},"mark":{"type":"rect","x2Offset":156,"yOffset":-16.5,"y2Offset":16.5,"cornerRadius":3},"encoding":{"x":{"datum":{"year":2021,"month":7,"date":16,"hours":19,"minutes":26,"utc":true},"type":"temporal","scale":{"type":"utc","domain":[{"year":2021,"month":2,"date":26,"hours":11,"minutes":15,"utc":true},{"year":2021,"month":7,"date":16,"hours":19,"minutes":26,"utc":true}]},"axis":null},"x2":{"datum":{"year":2021,"month":7,"date":16,"hours":19,"minutes":26,"utc":true}},"y":{"field":"v","type":"quantitative"},"y2":{"field":"v"},"color":{"field":"kind","type":"nominal","scale":{"domain":["orange","fib","gray","gray2","magenta","blue","lightblue","teal"],"range":["#ff9800","#ef5350","#9e9e9e","#9e9e9e","#ff00ff","#4a86e8","#9fc5e8","#26a69a"]},"legend":null}}},
{"data":{"name":"boxes"},"mark":{"type":"text","align":"left","baseline":"middle","dx":20,"fontSize":20},"encoding":{"x":{"datum":{"year":2021,"month":7,"date":16,"hours":19,"minutes":26,"utc":true},"type":"temporal","scale":{"type":"utc","domain":[{"year":2021,"month":2,"date":26,"hours":11,"minutes":15,"utc":true},{"year":2021,"month":7,"date":16,"hours":19,"minutes":26,"utc":true}]},"axis":null},"y":{"field":"v","type":"quantitative"},"text":{"field":"v","type":"quantitative","format":".8f"},"color":{"condition":{"test":"indexof(['magenta','blue','teal'], datum.kind) >= 0","value":"#ffffff"},"value":"#131722"}}},
{"data":{"values":[{}]},"mark":{"type":"rect","xOffset":47,"x2Offset":118,"yOffset":-16,"y2Offset":16,"cornerRadius":6,"fill":"#131722","stroke":"#434651","strokeWidth":1.5},"encoding":{"x":{"datum":{"year":2021,"month":7,"date":16,"hours":19,"minutes":26,"utc":true},"type":"temporal","scale":{"type":"utc","domain":[{"year":2021,"month":2,"date":26,"hours":11,"minutes":15,"utc":true},{"year":2021,"month":7,"date":16,"hours":19,"minutes":26,"utc":true}]},"axis":null},"x2":{"datum":{"year":2021,"month":7,"date":16,"hours":19,"minutes":26,"utc":true}},"y":{"datum":2.0888,"type":"quantitative"},"y2":{"datum":2.0888}}},
{"data":{"values":[{}]},"mark":{"type":"text","align":"center","baseline":"middle","dx":82.5,"fontSize":20,"fontWeight":"bold","color":"#b2b5be"},"encoding":{"x":{"datum":{"year":2021,"month":7,"date":16,"hours":19,"minutes":26,"utc":true},"type":"temporal","scale":{"type":"utc","domain":[{"year":2021,"month":2,"date":26,"hours":11,"minutes":15,"utc":true},{"year":2021,"month":7,"date":16,"hours":19,"minutes":26,"utc":true}]},"axis":null},"y":{"datum":2.0888,"type":"quantitative"},"text":{"value":"USD"}}}
]}
],
"resolve":{"scale":{"y":"independent"}}
},
{
"width":2717,"height":313,
"layer":[
{"data":{"values":[{}]},"mark":{"type":"rect","fill":"#ffffff","opacity":0.12},"encoding":{"x":{"datum":{"year":2021,"month":2,"date":26,"hours":11,"minutes":15,"utc":true},"type":"temporal","scale":{"type":"utc","domain":[{"year":2021,"month":2,"date":26,"hours":11,"minutes":15,"utc":true},{"year":2021,"month":7,"date":16,"hours":19,"minutes":26,"utc":true}]},"axis":null},"x2":{"datum":{"year":2021,"month":7,"date":16,"hours":19,"minutes":26,"utc":true}},"y":{"datum":20,"type":"quantitative","scale":{"domain":[8.14,87.93],"nice":false,"zero":false},"axis":{"orient":"right","values":[20,40,60,80],"format":".2f","grid":true,"gridColor":"#262a35","gridWidth":1.5,"tickSize":8,"tickColor":"#5d606b","labelPadding":12,"labelFontSize":20,"labelFont":"DejaVu Sans","labelColor":"#b2b5be","domain":false,"title":null}},"y2":{"datum":80}}},
{"data":{"name":"ticks"},"mark":{"type":"rule","color":"#2a2e39","strokeWidth":1.5},"encoding":{"x":{"field":"t","type":"temporal","scale":{"type":"utc","domain":[{"year":2021,"month":2,"date":26,"hours":11,"minutes":15,"utc":true},{"year":2021,"month":7,"date":16,"hours":19,"minutes":26,"utc":true}]},"axis":null}}},
{"data":{"values":[{}]},"mark":{"type":"rule","color":"#b2b5be","strokeWidth":2,"strokeDash":[12,9]},"encoding":{"y":{"datum":80,"type":"quantitative"}}},
{"data":{"values":[{}]},"mark":{"type":"rule","color":"#b2b5be","strokeWidth":2,"strokeDash":[12,9]},"encoding":{"y":{"datum":20,"type":"quantitative"}}},
{"data":{"values":[{}]},"mark":{"type":"rule","color":"#ffffff","strokeWidth":2},"encoding":{"y":{"datum":50,"type":"quantitative"}}},
{"data":{"name":"bars"},"mark":{"type":"line","color":"#f0a020","strokeWidth":1.6,"clip":true},"encoding":{"x":{"field":"t","type":"temporal","scale":{"type":"utc","domain":[{"year":2021,"month":2,"date":26,"hours":11,"minutes":15,"utc":true},{"year":2021,"month":7,"date":16,"hours":19,"minutes":26,"utc":true}]},"axis":null},"y":{"field":"rsi","type":"quantitative"}}},
{"data":{"values":[{}]},"mark":{"type":"rect","x2Offset":91,"yOffset":-16.5,"y2Offset":16.5,"cornerRadius":3,"fill":"#ffffff"},"encoding":{"x":{"datum":{"year":2021,"month":7,"date":16,"hours":19,"minutes":26,"utc":true},"type":"temporal","scale":{"type":"utc","domain":[{"year":2021,"month":2,"date":26,"hours":11,"minutes":15,"utc":true},{"year":2021,"month":7,"date":16,"hours":19,"minutes":26,"utc":true}]},"axis":null},"x2":{"datum":{"year":2021,"month":7,"date":16,"hours":19,"minutes":26,"utc":true}},"y":{"datum":50,"type":"quantitative"},"y2":{"datum":50}}},
{"data":{"values":[{}]},"mark":{"type":"text","align":"left","baseline":"middle","dx":20,"fontSize":20,"color":"#131722"},"encoding":{"x":{"datum":{"year":2021,"month":7,"date":16,"hours":19,"minutes":26,"utc":true},"type":"temporal","scale":{"type":"utc","domain":[{"year":2021,"month":2,"date":26,"hours":11,"minutes":15,"utc":true},{"year":2021,"month":7,"date":16,"hours":19,"minutes":26,"utc":true}]},"axis":null},"y":{"datum":50,"type":"quantitative"},"text":{"value":"50.00"}}}
]
},
{
"width":2717,"height":158,
"layer":[
{"data":{"values":[{}]},"mark":{"type":"rect","fill":"#8723da","opacity":0.25},"encoding":{"x":{"datum":{"year":2021,"month":2,"date":26,"hours":11,"minutes":15,"utc":true},"type":"temporal","scale":{"type":"utc","domain":[{"year":2021,"month":2,"date":26,"hours":11,"minutes":15,"utc":true},{"year":2021,"month":7,"date":16,"hours":19,"minutes":26,"utc":true}]},"axis":null},"x2":{"datum":{"year":2021,"month":7,"date":16,"hours":19,"minutes":26,"utc":true}},"y":{"datum":20,"type":"quantitative","scale":{"domain":[-11.96,114.0],"nice":false,"zero":false},"axis":{"orient":"right","values":[0,50,100],"format":".2f","grid":true,"gridColor":"#262a35","gridWidth":1.5,"tickSize":8,"tickColor":"#5d606b","labelPadding":12,"labelFontSize":20,"labelFont":"DejaVu Sans","labelColor":"#b2b5be","domain":false,"title":null}},"y2":{"datum":80}}},
{"data":{"name":"ticks"},"mark":{"type":"rule","color":"#2a2e39","strokeWidth":1.5},"encoding":{"x":{"field":"t","type":"temporal","scale":{"type":"utc","domain":[{"year":2021,"month":2,"date":26,"hours":11,"minutes":15,"utc":true},{"year":2021,"month":7,"date":16,"hours":19,"minutes":26,"utc":true}]},"axis":null}}},
{"data":{"values":[{}]},"mark":{"type":"rule","color":"#787b86","strokeWidth":1.5,"strokeDash":[9,7]},"encoding":{"y":{"datum":80,"type":"quantitative"}}},
{"data":{"values":[{}]},"mark":{"type":"rule","color":"#8d7aa8","strokeWidth":1.5,"strokeDash":[9,7]},"encoding":{"y":{"datum":20,"type":"quantitative"}}},
{"data":{"name":"bars"},"mark":{"type":"line","color":"#2196f3","strokeWidth":2},"encoding":{"x":{"field":"t","type":"temporal","scale":{"type":"utc","domain":[{"year":2021,"month":2,"date":26,"hours":11,"minutes":15,"utc":true},{"year":2021,"month":7,"date":16,"hours":19,"minutes":26,"utc":true}]},"axis":null},"y":{"field":"k","type":"quantitative"}}},
{"data":{"name":"bars"},"mark":{"type":"line","color":"#ff6d00","strokeWidth":2},"encoding":{"x":{"field":"t","type":"temporal","scale":{"type":"utc","domain":[{"year":2021,"month":2,"date":26,"hours":11,"minutes":15,"utc":true},{"year":2021,"month":7,"date":16,"hours":19,"minutes":26,"utc":true}]},"axis":null},"y":{"field":"d","type":"quantitative"}}}
]
},
{
"width":2717,"height":57,"view":{"stroke":null},
"data":{"name":"ticks"},
"layer":[
{"transform":[{"filter":"datum.drawn"}],"mark":{"type":"rect","xOffset":-70.5,"x2Offset":70.5,"color":"#bfc0c4","cornerRadius":3,"clip":true},"encoding":{"x":{"field":"t","type":"temporal","scale":{"type":"utc","domain":[{"year":2021,"month":2,"date":26,"hours":11,"minutes":15,"utc":true},{"year":2021,"month":7,"date":16,"hours":19,"minutes":26,"utc":true}]},"axis":null},"x2":{"field":"t"},"y":{"datum":1,"type":"quantitative","scale":{"domain":[0,1]},"axis":null},"y2":{"datum":0.175}}},
{"mark":{"type":"rule","color":"#5d606b","strokeWidth":1.5},"encoding":{"x":{"field":"t","type":"temporal","scale":{"type":"utc","domain":[{"year":2021,"month":2,"date":26,"hours":11,"minutes":15,"utc":true},{"year":2021,"month":7,"date":16,"hours":19,"minutes":26,"utc":true}]},"axis":null},"y":{"datum":1,"type":"quantitative","scale":{"domain":[0,1]},"axis":null},"y2":{"datum":0.86}}},
{"mark":{"type":"text","align":"center","baseline":"middle","fontSize":20,"clip":true},"encoding":{"x":{"field":"t","type":"temporal","scale":{"type":"utc","domain":[{"year":2021,"month":2,"date":26,"hours":11,"minutes":15,"utc":true},{"year":2021,"month":7,"date":16,"hours":19,"minutes":26,"utc":true}]},"axis":null},"y":{"datum":0.49,"type":"quantitative","scale":{"domain":[0,1]},"axis":null},"text":{"field":"label"},"color":{"condition":{"test":"datum.drawn","value":"#131722"},"value":"#b2b5be"}}}
]
},
{
"width":2717,"height":73,"view":{"stroke":null},
"data":{"values":[{}]},
"layer":[
{"mark":{"type":"point","shape":"M -0.8 0.7 C -1.05 0.7 -1.1 0.25 -0.85 0.1 C -0.95 -0.3 -0.55 -0.55 -0.25 -0.35 C -0.1 -0.8 0.55 -0.85 0.7 -0.3 C 1.0 -0.25 1.05 0.1 0.95 0.3 L 0.95 0.7 Z","filled":true,"color":"#2962ff","opacity":1,"size":1700},"encoding":{"x":{"datum":{"year":2021,"month":2,"date":27,"hours":14,"minutes":38,"utc":true},"type":"temporal","scale":{"type":"utc","domain":[{"year":2021,"month":2,"date":26,"hours":11,"minutes":15,"utc":true},{"year":2021,"month":7,"date":16,"hours":19,"minutes":26,"utc":true}]},"axis":null},"y":{"datum":0.493,"type":"quantitative","scale":{"domain":[0,1]},"axis":null}}},
{"mark":{"type":"point","shape":"M -0.7 0.45 L -0.3 0.02 L 0.05 0.32 L 0.5 -0.12","filled":false,"stroke":"#ffffff","strokeWidth":3,"opacity":1,"size":1700},"encoding":{"x":{"datum":{"year":2021,"month":2,"date":27,"hours":14,"minutes":38,"utc":true},"type":"temporal","scale":{"type":"utc","domain":[{"year":2021,"month":2,"date":26,"hours":11,"minutes":15,"utc":true},{"year":2021,"month":7,"date":16,"hours":19,"minutes":26,"utc":true}]},"axis":null},"y":{"datum":0.493,"type":"quantitative","scale":{"domain":[0,1]},"axis":null}}},
{"mark":{"type":"text","align":"left","baseline":"middle","fontSize":22,"color":"#e8eaf0"},"encoding":{"x":{"datum":{"year":2021,"month":3,"date":1,"hours":8,"minutes":10,"utc":true},"type":"temporal","scale":{"type":"utc","domain":[{"year":2021,"month":2,"date":26,"hours":11,"minutes":15,"utc":true},{"year":2021,"month":7,"date":16,"hours":19,"minutes":26,"utc":true}]},"axis":null},"y":{"datum":0.507,"type":"quantitative","scale":{"domain":[0,1]},"axis":null},"text":{"value":"TradingView"}}}
]
}
]
}
